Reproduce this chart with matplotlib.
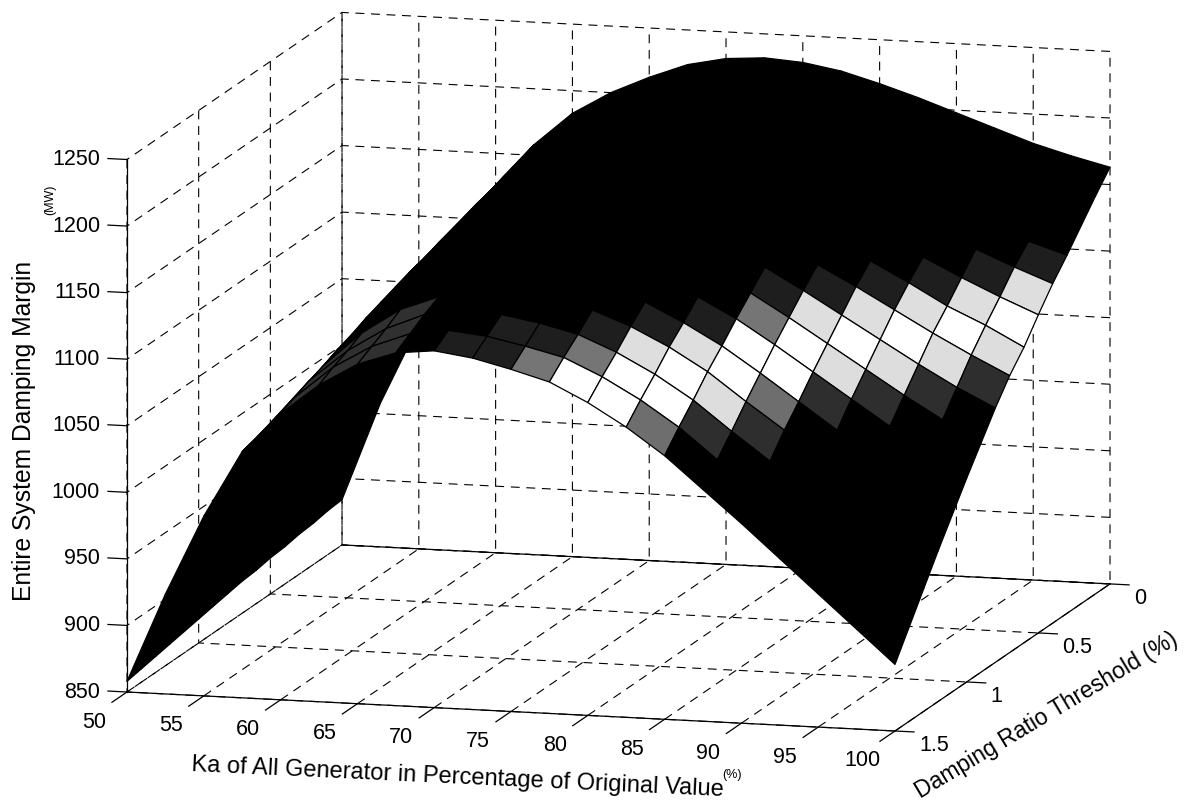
import numpy as np
import matplotlib
matplotlib.use("Agg")
import matplotlib.pyplot as plt
from matplotlib.colors import ListedColormap, BoundaryNorm, to_rgba
from mpl_toolkits.mplot3d import proj3d

plt.rcParams['font.family'] = ['Liberation Sans', 'DejaVu Sans']
plt.rcParams['grid.linestyle'] = (0, (8, 6))
plt.rcParams['grid.color'] = 'black'
plt.rcParams['grid.linewidth'] = 0.8
plt.rcParams['axes.linewidth'] = 0.9

ka = [50, 52.5, 55, 57.5, 60, 62.5, 65, 67.5, 70, 72.5, 75, 77.5, 80, 82.5, 85, 87.5, 90, 92.5, 95, 97.5, 100]
thr = [0, 0.1, 0.2, 0.3, 0.4, 0.5, 0.6, 0.7, 0.8, 0.9, 1.0, 1.1, 1.2, 1.3, 1.4, 1.5]
# one row per threshold, one value per ka
margin = [
    [884, 958, 1018, 1078, 1125, 1158, 1183, 1200, 1213, 1224, 1230, 1232, 1230, 1225, 1217, 1208, 1198, 1188, 1178, 1170, 1163],
    [883, 956, 1016, 1076, 1122, 1154, 1179, 1195, 1208, 1218, 1223, 1225, 1222, 1216, 1208, 1198, 1187, 1176, 1165, 1157, 1149],
    [881, 954, 1014, 1073, 1118, 1150, 1174, 1191, 1203, 1212, 1216, 1217, 1214, 1208, 1198, 1188, 1176, 1165, 1153, 1143, 1134],
    [880, 952, 1012, 1071, 1115, 1146, 1170, 1186, 1197, 1205, 1209, 1209, 1205, 1198, 1188, 1177, 1164, 1152, 1139, 1128, 1119],
    [878, 951, 1011, 1069, 1112, 1143, 1166, 1181, 1192, 1200, 1203, 1203, 1198, 1190, 1180, 1168, 1154, 1141, 1128, 1116, 1105],
    [877, 949, 1009, 1066, 1108, 1138, 1161, 1176, 1186, 1193, 1196, 1195, 1189, 1181, 1170, 1156, 1143, 1128, 1114, 1101, 1089],
    [875, 947, 1007, 1063, 1105, 1134, 1156, 1171, 1181, 1187, 1188, 1187, 1181, 1172, 1160, 1145, 1131, 1116, 1100, 1087, 1072],
    [874, 945, 1005, 1061, 1101, 1130, 1152, 1166, 1175, 1180, 1181, 1179, 1172, 1162, 1149, 1134, 1119, 1103, 1087, 1072, 1058],
    [872, 942, 1002, 1058, 1097, 1125, 1146, 1160, 1168, 1172, 1172, 1169, 1162, 1151, 1138, 1122, 1105, 1088, 1071, 1055, 1041],
    [870, 940, 1000, 1055, 1093, 1120, 1141, 1154, 1162, 1165, 1164, 1160, 1152, 1140, 1126, 1109, 1091, 1073, 1055, 1038, 1022],
    [868, 938, 998, 1052, 1088, 1115, 1135, 1148, 1155, 1157, 1155, 1151, 1142, 1129, 1114, 1096, 1077, 1058, 1039, 1021, 1003],
    [866, 935, 995, 1049, 1084, 1110, 1130, 1142, 1148, 1149, 1146, 1141, 1131, 1117, 1101, 1082, 1062, 1042, 1022, 1002, 983],
    [864, 933, 993, 1045, 1079, 1105, 1124, 1135, 1141, 1140, 1137, 1131, 1120, 1106, 1089, 1068, 1048, 1026, 1005, 984, 963],
    [862, 930, 990, 1042, 1075, 1099, 1117, 1129, 1133, 1132, 1127, 1120, 1108, 1093, 1075, 1053, 1032, 1009, 986, 964, 942],
    [860, 928, 988, 1038, 1070, 1094, 1111, 1122, 1126, 1123, 1117, 1110, 1097, 1081, 1062, 1039, 1016, 992, 968, 945, 921],
    [858, 925, 985, 1035, 1065, 1088, 1105, 1115, 1118, 1114, 1107, 1099, 1085, 1068, 1048, 1024, 1000, 975, 950, 925, 900],
]
ka_ticks = [50, 55, 60, 65, 70, 75, 80, 85, 90, 95, 100]
thr_ticks = [0, 0.5, 1, 1.5]
thr_labels = ['0', '0.5', '1', '1.5']
margin_ticks = [850, 900, 950, 1000, 1050, 1100, 1150, 1200, 1250]

# grey levels of the printed colormap
levels = [800, 1046, 1060, 1066, 1076, 1100, 1107, 1113, 1125, 1300]
greys = ['#000000', '#2e2e2e', '#6e6e6e', '#dddddd', '#ffffff', '#dedede', '#757575', '#1e1e1e', '#000000']

fig = plt.figure(figsize=(11.96, 8.08), dpi=100)
ax = fig.add_subplot(111, projection='3d', proj_type='ortho')
ax.view_init(elev=10.74, azim=-74.76)
ax.set_box_aspect((796, 818, 542))

X, Y = np.meshgrid(ka, thr)
Z = np.array(margin, dtype=float)
cell_z = (Z[:-1, :-1] + Z[1:, :-1] + Z[:-1, 1:] + Z[1:, 1:]) / 4
cmap = ListedColormap(greys)
cell_colors = cmap(BoundaryNorm(levels, len(greys))(cell_z))
# the steep left part prints solid black, with a streaky patch near the fold
ka_cells = np.array(ka[:-1])
thr_cells = np.array(thr[:-1])
cell_colors[:, ka_cells < 70] = to_rgba('black')
streak = np.ix_(thr_cells >= 1.2, (ka_cells >= 60) & (ka_cells < 67.5))
cell_colors[streak] = to_rgba('#303030')
ax.plot_surface(X, Y, Z, rstride=1, cstride=1, facecolors=cell_colors,
                edgecolor='black', linewidth=0.9, shade=False)

ax.set_xlim(50, 100, view_margin=0)
ax.set_ylim(1.5, 0, view_margin=0)
ax.set_zlim(850, 1250, view_margin=0)
ax.set_xticks(ka_ticks)
ax.set_yticks(thr_ticks)
ax.set_zticks(margin_ticks)
ax.set_xticklabels([])
ax.set_yticklabels([])
ax.set_zticklabels([])
ax.zaxis._axinfo['juggled'] = (1, 2, 0)

for axis in (ax.xaxis, ax.yaxis, ax.zaxis):
    axis.set_pane_color((1, 1, 1, 0))
    axis.pane.set_edgecolor('none')
    axis._axinfo['tick']['inward_factor'] = 0.0
    axis._axinfo['tick']['outward_factor'] = 0.0

# solid floor edge along the back wall
ax.plot([50, 100], [0, 0], [850, 850], color='black', lw=0.9)

# tick marks, the native ones point the wrong way with the reversed axis
for v in ka_ticks:
    ax.plot([v, v], [1.5, 1.605], [850, 850], color='black', lw=0.9)
for v in thr_ticks:
    ax.plot([100, 101.24], [v, v], [850, 850], color='black', lw=0.9)
for v in margin_ticks:
    ax.plot([50, 48.76], [1.5, 1.5], [v, v], color='black', lw=0.9)


def to_px(xv, yv, zv):
    px, py, _ = proj3d.proj_transform(xv, yv, zv, ax.get_proj())
    return ax.transData.transform((px, py))


# fit the plot box on the figure: corner of the axes at (127, 692) px, x axis 768 px long
side = 1000.0
ax.set_position([0, 0, side / 1196, side / 808])
fig.canvas.draw()
side *= 768.0 / (to_px(100, 1.5, 850)[0] - to_px(50, 1.5, 850)[0])
ax.set_position([0, 0, side / 1196, side / 808])
fig.canvas.draw()
corner = to_px(50, 1.5, 850)
ax.set_position([(127 - corner[0]) / 1196, (808 - 692 - corner[1]) / 808, side / 1196, side / 808])
fig.canvas.draw()

# tick labels sit at a fixed pixel offset from the projected tick position
for v in ka_ticks:
    p = to_px(v, 1.5, 850)
    fig.text((p[0] - 33) / 1196, (p[1] - 30) / 808, str(v), fontsize=15.5, ha='center', va='center')
for v, s in zip(thr_ticks, thr_labels):
    p = to_px(100, v, 850)
    fig.text((p[0] + 24) / 1196, (p[1] - 15) / 808, s, fontsize=15.5, ha='left', va='center')
for v in margin_ticks:
    p = to_px(50, 1.5, v)
    fig.text((p[0] - 27) / 1196, p[1] / 808, str(v), fontsize=15.5, ha='right', va='center')

fig.text(458 / 1196, 1 - 778 / 808, 'Ka of All Generator in Percentage of Original Value',
         fontsize=17, rotation=-2.7, ha='center', va='center', rotation_mode='anchor')
fig.text(732 / 1196, 1 - 775 / 808, '(%)', fontsize=9, ha='center', va='center')
fig.text(1047 / 1196, 1 - 715 / 808, 'Damping Ratio Threshold (%)',
         fontsize=16.6, rotation=31, ha='center', va='center', rotation_mode='anchor')
fig.text(24 / 1196, 1 - 431 / 808, 'Entire System Damping Margin',
         fontsize=17.7, rotation=90, ha='center', va='center')
fig.text(50 / 1196, 1 - 200 / 808, '(MW)', fontsize=9, rotation=90, ha='center', va='center')

fig.savefig('out.png', dpi=100)
